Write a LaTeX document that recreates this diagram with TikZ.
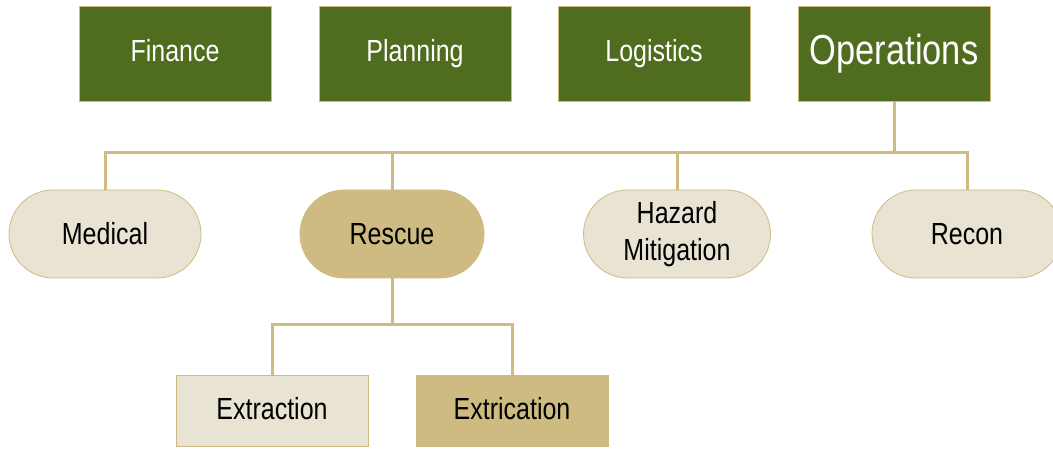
\documentclass[tikz,border=0pt]{standalone}
\usepackage{fontspec}
\setmainfont{Liberation Sans}[FakeStretch=0.82]
\usetikzlibrary{shapes.misc}

\definecolor{leafgreen}{RGB}{80,108,30}
\definecolor{sandtan}{RGB}{205,187,130}
\definecolor{palesand}{RGB}{232,227,211}

\begin{document}
\begin{tikzpicture}[x=1pt, y=-1pt]

        % Styles of the three kinds of boxes and of the links
        \tikzset{
            section/.style={rectangle, draw=sandtan, line width=0.8pt,
                fill=leafgreen, text=white, minimum width=192pt,
                minimum height=95pt, inner sep=0pt,
                text height=22pt, text depth=6pt,
                font=\fontsize{30.5}{36}\selectfont},
            branch/.style={rounded rectangle, draw=sandtan, line width=0.8pt,
                fill=palesand, minimum height=88pt, inner sep=0pt,
                align=center, font=\fontsize{30.5}{37}\selectfont},
            task/.style={rectangle, draw=sandtan, line width=0.8pt,
                fill=palesand, minimum width=192pt, minimum height=71pt,
                inner sep=0pt, text height=22pt, text depth=6pt,
                font=\fontsize{30.5}{36}\selectfont},
            link/.style={draw=sandtan, line width=3pt}
        }

        \useasboundingbox (0, 0) rectangle (1053, 449);

        % Top row of sections
        \node[section] (finance) at (175, 54) {Finance};
        \node[section] (planning) at (415, 54) {Planning};
        \node[section] (logistics) at (654, 54) {Logistics};
        \node[section, text height=30pt, text depth=8pt,
            font=\fontsize{42}{48}\selectfont]
            (operations) at (894, 54) {Operations};

        % Branches of operations
        \node[branch, minimum width=192pt] (medical) at (105, 234) {Medical};
        \node[branch, minimum width=184pt, fill=sandtan]
            (rescue) at (392, 234) {Rescue};
        \node[branch, minimum width=187pt]
            (hazard) at (677, 234) {Hazard\\Mitigation};
        \node[branch, minimum width=190pt] (recon) at (967, 234) {Recon};

        % Tasks of rescue
        \node[task] (extraction) at (272, 411) {Extraction};
        \node[task, fill=sandtan] (extrication) at (512, 411) {Extrication};

        \coordinate (J1) at (894, 153);
        \coordinate (J2) at (392, 325);

        \begin{scope}[link]
            \draw (operations.south) -- (J1);
            \draw (medical.north) |- (J1) -| (recon.north);
            \draw (rescue.north) -- (rescue.north |- J1);
            \draw (hazard.north) -- (hazard.north |- J1);

            \draw (rescue.south) -- (J2);
            \draw (extraction.north) |- (J2) -| (extrication.north);
        \end{scope}

\end{tikzpicture}
\end{document}
